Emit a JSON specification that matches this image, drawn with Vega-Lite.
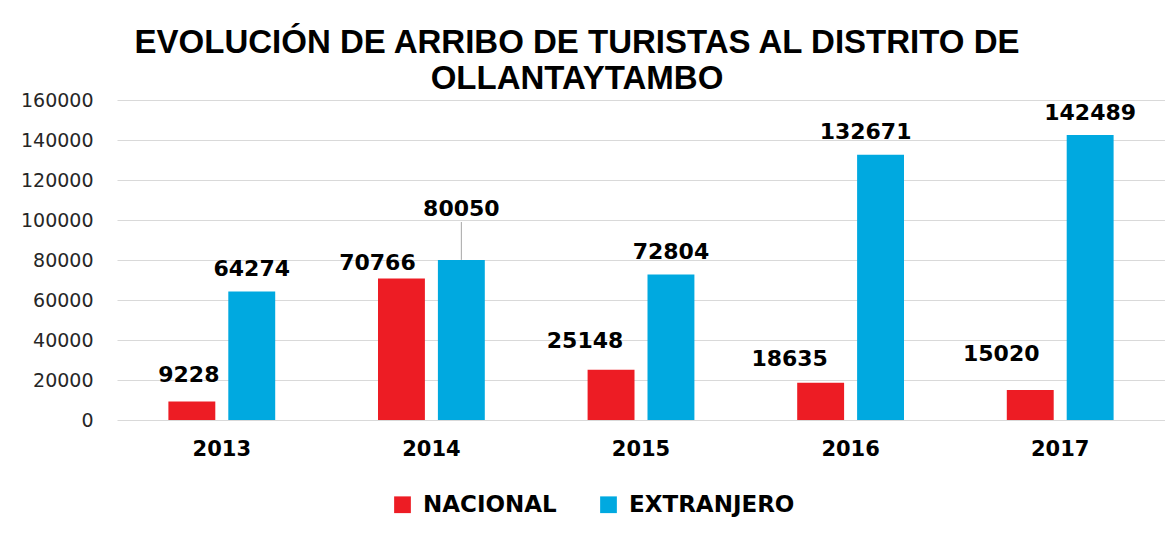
{
  "$schema": "https://vega.github.io/schema/vega-lite/v6.json",
  "width": 1048,
  "height": 320,
  "autosize": {"type": "none"},
  "padding": {"left": 117, "top": 100, "right": 0, "bottom": 115},
  "background": "white",
  "title": {
    "text": ["EVOLUCIÓN DE ARRIBO DE TURISTAS AL DISTRITO DE", "OLLANTAYTAMBO"],
    "font": "Liberation Sans",
    "fontSize": 33,
    "fontWeight": "bold",
    "color": "#000000",
    "lineHeight": 36,
    "anchor": "middle",
    "frame": "group",
    "dx": -64,
    "offset": -5
  },
  "data": {
    "values": [
      {"year": "2013", "type": "NACIONAL", "value": 9228},
      {"year": "2013", "type": "EXTRANJERO", "value": 64274},
      {"year": "2014", "type": "NACIONAL", "value": 70766},
      {"year": "2014", "type": "EXTRANJERO", "value": 80050},
      {"year": "2015", "type": "NACIONAL", "value": 25148},
      {"year": "2015", "type": "EXTRANJERO", "value": 72804},
      {"year": "2016", "type": "NACIONAL", "value": 18635},
      {"year": "2016", "type": "EXTRANJERO", "value": 132671},
      {"year": "2017", "type": "NACIONAL", "value": 15020},
      {"year": "2017", "type": "EXTRANJERO", "value": 142489}
    ]
  },
  "encoding": {
    "x": {
      "field": "year", "type": "nominal",
      "scale": {"paddingInner": 0, "paddingOuter": 0},
      "axis": {
        "title": null, "labelAngle": 0, "domain": false, "ticks": false,
        "labelFont": "DejaVu Sans", "labelFontSize": 21, "labelFontWeight": "bold",
        "labelColor": "#000000", "labelPadding": 18
      }
    },
    "xOffset": {
      "field": "type", "type": "nominal", "sort": ["NACIONAL", "EXTRANJERO"],
      "scale": {"paddingInner": 0.217, "paddingOuter": 0.858}
    },
    "y": {
      "field": "value", "type": "quantitative",
      "scale": {"domain": [0, 160000], "nice": false},
      "axis": {
        "title": null, "domain": false, "ticks": false, "values": [0, 20000, 40000, 60000, 80000, 100000, 120000, 140000, 160000],
        "format": "d", "labelFont": "DejaVu Sans", "labelFontSize": 19,
        "labelColor": "#262626", "labelPadding": 24,
        "gridColor": "#d9d9d9", "gridWidth": 1
      }
    }
  },
  "layer": [
    {
      "mark": {"type": "bar"},
      "encoding": {
        "color": {
          "field": "type", "type": "nominal",
          "scale": {"domain": ["NACIONAL", "EXTRANJERO"], "range": ["#ED1C24", "#00A9E0"]},
          "legend": {
            "title": null, "orient": "none", "direction": "horizontal",
            "legendX": 274, "legendY": 393,
            "symbolType": "square", "symbolSize": 280, "symbolStrokeWidth": 0,
            "labelFont": "DejaVu Sans", "labelFontSize": 23, "labelFontWeight": "bold",
            "labelColor": "#000000", "columnPadding": 40, "labelOffset": 9, "labelLimit": 400
          }
        }
      }
    },
    {
      "transform": [{"filter": "datum.value == 80050"}],
      "mark": {"type": "rule", "color": "#a6a6a6", "strokeWidth": 1},
      "encoding": {"y2": {"datum": 99000}}
    },
    {
      "transform": [{"filter": "datum.value == 64274 || datum.value == 72804 || datum.value == 142489"}],
      "mark": {"type": "text", "baseline": "alphabetic", "dy": -15, "font": "DejaVu Sans", "fontSize": 22, "fontWeight": "bold", "color": "#000000"},
      "encoding": {"text": {"field": "value", "type": "quantitative", "format": "d"}}
    },
    {
      "transform": [{"filter": "datum.value == 9228"}],
      "mark": {"type": "text", "baseline": "alphabetic", "dx": -3, "dy": -20, "font": "DejaVu Sans", "fontSize": 22, "fontWeight": "bold", "color": "#000000"},
      "encoding": {"text": {"field": "value", "type": "quantitative", "format": "d"}}
    },
    {
      "transform": [{"filter": "datum.value == 70766"}],
      "mark": {"type": "text", "baseline": "alphabetic", "dx": -24, "dy": -8, "font": "DejaVu Sans", "fontSize": 22, "fontWeight": "bold", "color": "#000000"},
      "encoding": {"text": {"field": "value", "type": "quantitative", "format": "d"}}
    },
    {
      "transform": [{"filter": "datum.value == 80050"}],
      "mark": {"type": "text", "baseline": "alphabetic", "dy": -44, "font": "DejaVu Sans", "fontSize": 22, "fontWeight": "bold", "color": "#000000"},
      "encoding": {"text": {"field": "value", "type": "quantitative", "format": "d"}}
    },
    {
      "transform": [{"filter": "datum.value == 25148"}],
      "mark": {"type": "text", "baseline": "alphabetic", "dx": -26, "dy": -22, "font": "DejaVu Sans", "fontSize": 22, "fontWeight": "bold", "color": "#000000"},
      "encoding": {"text": {"field": "value", "type": "quantitative", "format": "d"}}
    },
    {
      "transform": [{"filter": "datum.value == 18635"}],
      "mark": {"type": "text", "baseline": "alphabetic", "dx": -31, "dy": -17, "font": "DejaVu Sans", "fontSize": 22, "fontWeight": "bold", "color": "#000000"},
      "encoding": {"text": {"field": "value", "type": "quantitative", "format": "d"}}
    },
    {
      "transform": [{"filter": "datum.value == 132671"}],
      "mark": {"type": "text", "baseline": "alphabetic", "dx": -15, "dy": -16, "font": "DejaVu Sans", "fontSize": 22, "fontWeight": "bold", "color": "#000000"},
      "encoding": {"text": {"field": "value", "type": "quantitative", "format": "d"}}
    },
    {
      "transform": [{"filter": "datum.value == 15020"}],
      "mark": {"type": "text", "baseline": "alphabetic", "dx": -29, "dy": -29, "font": "DejaVu Sans", "fontSize": 22, "fontWeight": "bold", "color": "#000000"},
      "encoding": {"text": {"field": "value", "type": "quantitative", "format": "d"}}
    }
  ],
  "config": {
    "view": {"stroke": null}
  }
}
